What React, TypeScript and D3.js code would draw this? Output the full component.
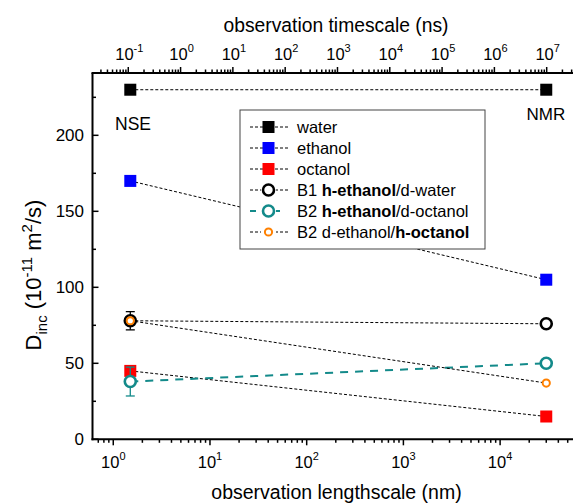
import React from 'react';
import * as d3 from 'd3';

// observation lengthscale (nm) of NSE and NMR points
const lengthNm = [1.5, 30000];
const water = [230, 230];
const ethanol = [170, 105];
const octanol = [45, 15];
const b1Water = [78, 76];
const b2Octanol = [38, 50];
const b2HOctanol = [78, 37];
const b1Err = [6, 0];
const b2Err = [9.5, 0];

const yTicks = [0, 50, 100, 150, 200];
const yMinor = [25, 75, 125, 175, 225];
const bottomExp = [0, 1, 2, 3, 4];
const topExp = [-1, 0, 1, 2, 3, 4, 5, 6, 7];

type Series = {
  name: React.ReactNode;
  values: number[];
  err?: number[];
  color: string;
  marker: 'square' | 'circle' | 'smallCircle';
  lineColor: string;
  dash: string;
  lineWidth: number;
};

const series: Series[] = [
  { name: 'water', values: water, color: '#000000', marker: 'square', lineColor: '#000', dash: '3,2', lineWidth: 1 },
  { name: 'ethanol', values: ethanol, color: '#0000ff', marker: 'square', lineColor: '#000', dash: '3,2', lineWidth: 1 },
  { name: 'octanol', values: octanol, color: '#ff0000', marker: 'square', lineColor: '#000', dash: '3,2', lineWidth: 1 },
  {
    name: (<><tspan>B1 </tspan><tspan fontWeight="bold">h-ethanol</tspan><tspan>/d-water</tspan></>),
    values: b1Water, err: b1Err, color: '#000000', marker: 'circle', lineColor: '#000', dash: '3,2', lineWidth: 1,
  },
  {
    name: (<><tspan>B2 </tspan><tspan fontWeight="bold">h-ethanol</tspan><tspan>/d-octanol</tspan></>),
    values: b2Octanol, err: b2Err, color: '#138a8a', marker: 'circle', lineColor: '#138a8a', dash: '8,7', lineWidth: 2,
  },
  {
    name: (<><tspan>B2 d-ethanol/</tspan><tspan fontWeight="bold">h-octanol</tspan></>),
    values: b2HOctanol, color: '#ff8000', marker: 'smallCircle', lineColor: '#000', dash: '3,2', lineWidth: 1,
  },
];

const W = 573;
const H = 503;
const left = 92.5;
const right = 580;
const top = 73;
const bottom = 439.3;

const font = 'Arial, "Liberation Sans", sans-serif';

function Marker({ s, x, y }: { s: Series; x: number; y: number }) {
  if (s.marker === 'square') {
    return <rect x={x - 6} y={y - 6} width={12} height={12} fill={s.color} />;
  }
  if (s.marker === 'circle') {
    return <circle cx={x} cy={y} r={5.5} fill="#fff" stroke={s.color} strokeWidth={2.6} />;
  }
  return <circle cx={x} cy={y} r={3.6} fill="#fff" stroke={s.color} strokeWidth={2} />;
}

export default function App() {
  const x = d3.scaleLog().domain([0.61, 67000]).range([left, right]);
  const xTop = d3.scaleLog().domain([Math.pow(10, -1.684), Math.pow(10, 7.637)]).range([left, right]);
  const y = d3.scaleLinear().domain([0, 241]).range([bottom, top]);

  const minorOf = (sc: d3.ScaleLogarithmic<number, number>, k0: number, k1: number) => {
    const out: number[] = [];
    const [a, b] = sc.domain();
    for (let k = k0; k <= k1; k++) {
      for (let m = 2; m <= 9; m++) {
        const v = m * Math.pow(10, k);
        if (v >= a && v <= b) out.push(v);
      }
    }
    return out;
  };
  const bottomMinor = minorOf(x, -1, 4);
  const topMinor = minorOf(xTop, -2, 7);

  const line = d3.line<number>().x((_, i) => x(lengthNm[i])).y(d => y(d));

  const legX = 240, legY = 110, legW = 245, legH = 139;
  const rowY = (i: number) => 127 + i * 21;

  return (
    <svg width={W} height={H} style={{ position: 'absolute', left: 0, top: 0, background: '#fff' }} fontFamily={font}>
      <defs>
        <clipPath id="plot"><rect x={left} y={top - 1} width={W - left} height={bottom - top + 2} /></clipPath>
      </defs>

      {/* connecting lines */}
      <g clipPath="url(#plot)">
        {series.map((s, i) => (
          <path key={i} d={line(s.values) || ''} fill="none" stroke={s.lineColor} strokeWidth={s.lineWidth} strokeDasharray={s.dash} />
        ))}
      </g>

      {/* markers & error bars */}
      {series.map((s, i) => (
        <g key={i}>
          {s.values.map((v, j) => (
            <Marker key={j} s={s} x={x(lengthNm[j])} y={y(v)} />
          ))}
          {s.err && s.values.map((v, j) => s.err![j] > 0 ? (
            <g key={'e' + j} stroke={s.color} strokeWidth={1.3}>
              <line x1={x(lengthNm[j])} x2={x(lengthNm[j])} y1={y(v + s.err![j])} y2={y(v) - 6} />
              <line x1={x(lengthNm[j])} x2={x(lengthNm[j])} y1={y(v) + 6} y2={y(v - s.err![j])} />
              <line x1={x(lengthNm[j]) - 4.5} x2={x(lengthNm[j]) + 4.5} y1={y(v + s.err![j])} y2={y(v + s.err![j])} />
              <line x1={x(lengthNm[j]) - 4.5} x2={x(lengthNm[j]) + 4.5} y1={y(v - s.err![j])} y2={y(v - s.err![j])} />
            </g>
          ) : null)}
        </g>
      ))}

      {/* NSE / NMR labels */}
      <text x={115} y={129.5} fontSize={17.5} fill="#000">NSE</text>
      <text x={526.5} y={119.5} fontSize={17} fill="#000">NMR</text>

      {/* legend */}
      <rect x={legX} y={legY} width={legW} height={legH} fill="#fff" stroke="#444" strokeWidth={1} />
      {series.map((s, i) => (
        <g key={i}>
          <line x1={250} x2={290} y1={rowY(i)} y2={rowY(i)} stroke={s.lineColor} strokeWidth={s.lineWidth}
            strokeDasharray={s.marker === 'circle' && s.lineWidth > 1 ? '6,18' : '3,2'} />
          {s.marker === 'square' ? <rect x={263} y={rowY(i) - 5.5} width={11} height={11} fill={s.color} /> : null}
          {s.marker !== 'square' ? <rect x={261} y={rowY(i) - 7} width={15} height={14} fill="#fff" /> : null}
          <Marker s={s} x={268.5} y={rowY(i)} />
          <text x={297} y={rowY(i) + 6} fontSize={16.5} fill="#000">{s.name}</text>
        </g>
      ))}

      {/* left axis */}
      <line x1={left} x2={left} y1={top} y2={bottom + 1} stroke="#000" strokeWidth={2} />
      {yTicks.map(t => (
        <g key={t}>
          <line x1={left} x2={left + 6} y1={y(t)} y2={y(t)} stroke="#000" strokeWidth={1.5} />
          <text x={84} y={y(t) + 6} fontSize={17} textAnchor="end">{t}</text>
        </g>
      ))}
      {yMinor.map(t => (
        <line key={t} x1={left} x2={left + 3.5} y1={y(t)} y2={y(t)} stroke="#000" strokeWidth={1.5} />
      ))}

      {/* bottom axis */}
      <line x1={left - 1} x2={W} y1={bottom} y2={bottom} stroke="#000" strokeWidth={2} />
      {bottomExp.map(e => {
        const px = x(Math.pow(10, e));
        return (
          <g key={e}>
            <line x1={px} x2={px} y1={bottom} y2={bottom + 6} stroke="#000" strokeWidth={1.5} />
            <text x={px} y={467.5} fontSize={16.5} textAnchor="middle">
              <tspan>10</tspan><tspan dy={-8} fontSize={11}>{e}</tspan>
            </text>
          </g>
        );
      })}
      {bottomMinor.map((v, i) => (
        <line key={i} x1={x(v)} x2={x(v)} y1={bottom} y2={bottom + 3.5} stroke="#000" strokeWidth={1.5} />
      ))}

      {/* top axis */}
      <line x1={left - 1} x2={W} y1={top} y2={top} stroke="#000" strokeWidth={2} />
      {topExp.map(e => {
        const px = xTop(Math.pow(10, e));
        return (
          <g key={e}>
            <line x1={px} x2={px} y1={top} y2={top - 6} stroke="#000" strokeWidth={1.5} />
            <text x={px + 1} y={59.5} fontSize={16.5} textAnchor="middle">
              <tspan>10</tspan><tspan dy={-8} fontSize={11}>{e}</tspan>
            </text>
          </g>
        );
      })}
      {topMinor.map((v, i) => (
        <line key={i} x1={xTop(v)} x2={xTop(v)} y1={top} y2={top - 3.5} stroke="#000" strokeWidth={1.5} />
      ))}

      {/* axis titles */}
      <text x={336} y={31.5} fontSize={19.3} textAnchor="middle">observation timescale (ns)</text>
      <text x={336.5} y={498.5} fontSize={19.5} textAnchor="middle">observation lengthscale (nm)</text>
      <text transform="translate(41,275) rotate(-90)" fontSize={22} textAnchor="middle">
        <tspan>D</tspan><tspan dy={6} fontSize={15}>inc</tspan>
        <tspan dy={-6}> (10</tspan><tspan dy={-9} fontSize={15}>-11</tspan>
        <tspan dy={9}> m</tspan><tspan dy={-9} fontSize={15}>2</tspan>
        <tspan dy={9}>/s)</tspan>
      </text>
    </svg>
  );
}
